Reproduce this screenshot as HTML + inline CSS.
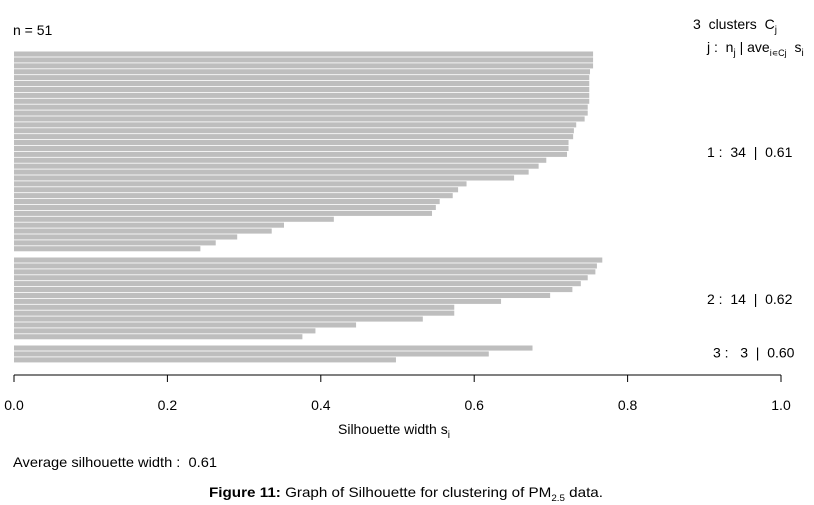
<!DOCTYPE html>
<html><head><meta charset="utf-8"><style>
body{margin:0;background:#fff;}
svg{display:block;font-family:"Liberation Sans",Arial,sans-serif;}
svg text{white-space:pre;}
</style></head><body>
<svg id="chart" width="814" height="505" xmlns="http://www.w3.org/2000/svg" xml:space="preserve">
<text x="13" y="35" font-size="14">n = 51</text>
<text x="693" y="29" font-size="14">3  clusters  C<tspan font-size="10" dy="4">j</tspan></text>
<text x="707" y="52" font-size="14">j :  n<tspan font-size="10" dy="4">j</tspan><tspan dy="-4"> | ave</tspan><tspan font-size="9" dy="4">i∊Cj</tspan><tspan dy="-4">  s</tspan><tspan font-size="10" dy="4">i</tspan></text>
<g id="bars"></g>
<g id="labels"></g>
<g id="axis"></g>
<text x="338" y="434" font-size="14">Silhouette width s<tspan font-size="10" dy="4">i</tspan></text>
<text x="13" y="467" font-size="14" textLength="204" lengthAdjust="spacingAndGlyphs">Average silhouette width :  0.61</text>
<text x="209" y="497" font-size="14" textLength="394" lengthAdjust="spacingAndGlyphs"><tspan font-weight="bold">Figure 11:</tspan> Graph of Silhouette for clustering of PM<tspan font-size="9" dy="4">2.5</tspan><tspan dy="-4"> data.</tspan></text>
</svg>
<script>
const cluster1 = [0.755,0.755,0.755,0.751,0.750,0.750,0.750,0.750,0.750,0.748,0.748,0.744,0.733,0.730,0.729,0.723,0.723,0.721,0.694,0.684,0.671,0.652,0.590,0.579,0.572,0.555,0.550,0.545,0.417,0.352,0.336,0.291,0.263,0.243];
const cluster2 = [0.767,0.760,0.758,0.748,0.739,0.728,0.699,0.635,0.574,0.574,0.533,0.446,0.393,0.376];
const cluster3 = [0.676,0.619,0.498];
const clusterLabels = ["1 :  34  |  0.61","2 :  14  |  0.62","3 :   3  |  0.60"];
const xTicks = [0,0.2,0.4,0.6,0.8,1.0];
const xTickLabels = ["0.0","0.2","0.4","0.6","0.8","1.0"];

const NS="http://www.w3.org/2000/svg";
const x = v => 14 + v*767;
const pitch = 5.9, gap = 5.4, top0 = 51.5, barH = 5.1;
const bars = document.getElementById('bars');
const labels = document.getElementById('labels');
let y = top0;
[cluster1,cluster2,cluster3].forEach((cl,ci)=>{
  const y0 = y;
  cl.forEach((v,i)=>{
    const r=document.createElementNS(NS,'rect');
    
    
    r.setAttribute('x',x(0)); r.setAttribute('y',y);
    r.setAttribute('width',x(v)-x(0)); r.setAttribute('height',barH);
    r.setAttribute('fill','#bebebe');
    bars.appendChild(r);
    y += pitch;
  });
  const t=document.createElementNS(NS,'text');
  
  
  t.setAttribute('x', ci==2?713:707); t.setAttribute('y',(y0+y)/2+5 + (ci==2?-2:0));
  t.setAttribute('font-size','14');
  t.textContent=clusterLabels[ci];
  labels.appendChild(t);
  y += gap;
});
const axis=document.getElementById('axis');
const line=document.createElementNS(NS,'line');


line.setAttribute('x1',x(0));line.setAttribute('x2',x(1));line.setAttribute('y1',375);line.setAttribute('y2',375);
line.setAttribute('stroke','#000');
axis.appendChild(line);
xTicks.forEach((v,i)=>{
  const l=document.createElementNS(NS,'line');
  
  
  l.setAttribute('x1',x(v));l.setAttribute('x2',x(v));l.setAttribute('y1',375);l.setAttribute('y2',382);
  l.setAttribute('stroke','#000');
  axis.appendChild(l);
  const t=document.createElementNS(NS,'text');
  
  
  t.setAttribute('x',x(v));t.setAttribute('y',410);t.setAttribute('text-anchor','middle');t.setAttribute('font-size','14');
  t.textContent=xTickLabels[i];
  axis.appendChild(t);
});
</script>
</body></html>
